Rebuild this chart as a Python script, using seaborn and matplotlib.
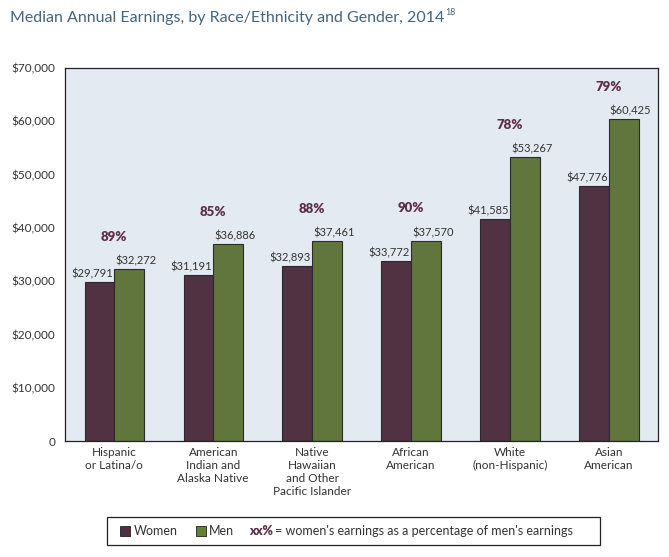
import numpy as np
import pandas as pd
import seaborn as sns
from matplotlib import pyplot as plt
from matplotlib.patches import Rectangle, Patch

groups = ["Hispanic\nor Latina/o", "American\nIndian and\nAlaska Native",
          "Native\nHawaiian\nand Other\nPacific Islander", "African\nAmerican",
          "White\n(non-Hispanic)", "Asian\nAmerican"]
women = [29791, 31191, 32893, 33772, 41585, 47776]
men = [32272, 36886, 37461, 37570, 53267, 60425]
pct = ["89%", "85%", "88%", "90%", "78%", "79%"]
y_ticks = [0, 10000, 20000, 30000, 40000, 50000, 60000, 70000]

women_c = "#552d43"
men_c = "#637f33"
pct_c = "#5c2f48"
text_c = "#333333"
title_c = "#45657f"

df = pd.DataFrame({
    "group": groups * 2,
    "gender": ["Women"] * 6 + ["Men"] * 6,
    "earnings": women + men,
})

sns.set_style("white")
plt.rcParams["font.family"] = ["Lato", "DejaVu Sans"]

fig = plt.figure(figsize=(6.69, 5.57), dpi=100)
ax = fig.add_axes([0.097, 0.208, 0.887, 0.670])
ax.set_facecolor("#e4eaf1")

sns.barplot(data=df, x="group", y="earnings", hue="gender",
            palette=[women_c, men_c], width=0.6, edgecolor="#2b2b2b",
            linewidth=0.8, ax=ax, legend=False)

ax.set_ylim(0, 70000)
ax.set_xlim(-0.5, 5.5)
ax.set_yticks(y_ticks)
ax.set_yticklabels(["0"] + [f"${v:,}" for v in y_ticks[1:]], fontsize=8.5, color=text_c)
ax.set_xticks(range(6))
ax.set_xticklabels(groups, fontsize=8.5, color=text_c, linespacing=1.25)
ax.set_xticks(np.arange(0.5, 5.5, 1), minor=True)
ax.tick_params(axis="x", which="major", length=0, pad=4)
ax.tick_params(axis="x", which="minor", length=4, width=0.8, color="#555555", direction="out")
ax.tick_params(axis="y", length=4, width=0.8, color="#555555", direction="out", pad=3)
ax.set_xlabel("")
ax.set_ylabel("")
for s in ax.spines.values():
    s.set_color("#222222")
    s.set_linewidth(0.9)

# value labels on bars
w_bars = ax.containers[0]
m_bars = ax.containers[1]
for p, v in zip(w_bars, women):
    ax.annotate(f"${v:,}", (p.get_x() + p.get_width() - 0.01, p.get_height()),
                xytext=(0, 2), textcoords="offset points", ha="right", va="bottom",
                fontsize=8, color=text_c)
for p, v in zip(m_bars, men):
    ax.annotate(f"${v:,}", (p.get_x() + 0.01, p.get_height()),
                xytext=(0, 2), textcoords="offset points", ha="left", va="bottom",
                fontsize=8, color=text_c)
for i, (v, t) in enumerate(zip(men, pct)):
    ax.annotate(t, (i, v), xytext=(0, 19), textcoords="offset points",
                ha="center", va="bottom", fontsize=9.5, fontweight="heavy", color=pct_c)

# title
title = fig.text(0.015, 0.967, "Median Annual Earnings, by Race/Ethnicity and Gender, 2014",
                 fontsize=11.5, color=title_c, va="center", ha="left")
ax.annotate("18", xy=(1.0, 0.62), xycoords=title, xytext=(0.3, 0),
            textcoords="offset points", fontsize=6.5, color=title_c,
            va="bottom", ha="left", annotation_clip=False)

# legend box
box = Rectangle((0.16, 0.022), 0.737, 0.049, transform=fig.transFigure,
                facecolor="white", edgecolor="#222222", linewidth=0.9, zorder=-1)
fig.add_artist(box)
handles = [Patch(facecolor=women_c, edgecolor="#222222", linewidth=0.6, label="Women"),
           Patch(facecolor=men_c, edgecolor="#222222", linewidth=0.6, label="Men")]
fig.legend(handles=handles, loc="center left", bbox_to_anchor=(0.163, 0.0465),
           ncol=2, frameon=False, fontsize=9, handlelength=0.8, handleheight=0.8,
           handletextpad=0.3, columnspacing=1.4, labelcolor=text_c)
note = fig.text(0.373, 0.0465, "xx%", fontsize=9, fontweight="heavy", color=pct_c,
                va="center", ha="left")
fig.text(0.411, 0.0465, "= women's earnings as a percentage of men's earnings",
         fontsize=9, color=text_c, va="center", ha="left")

fig.savefig("out.png", dpi=100)
